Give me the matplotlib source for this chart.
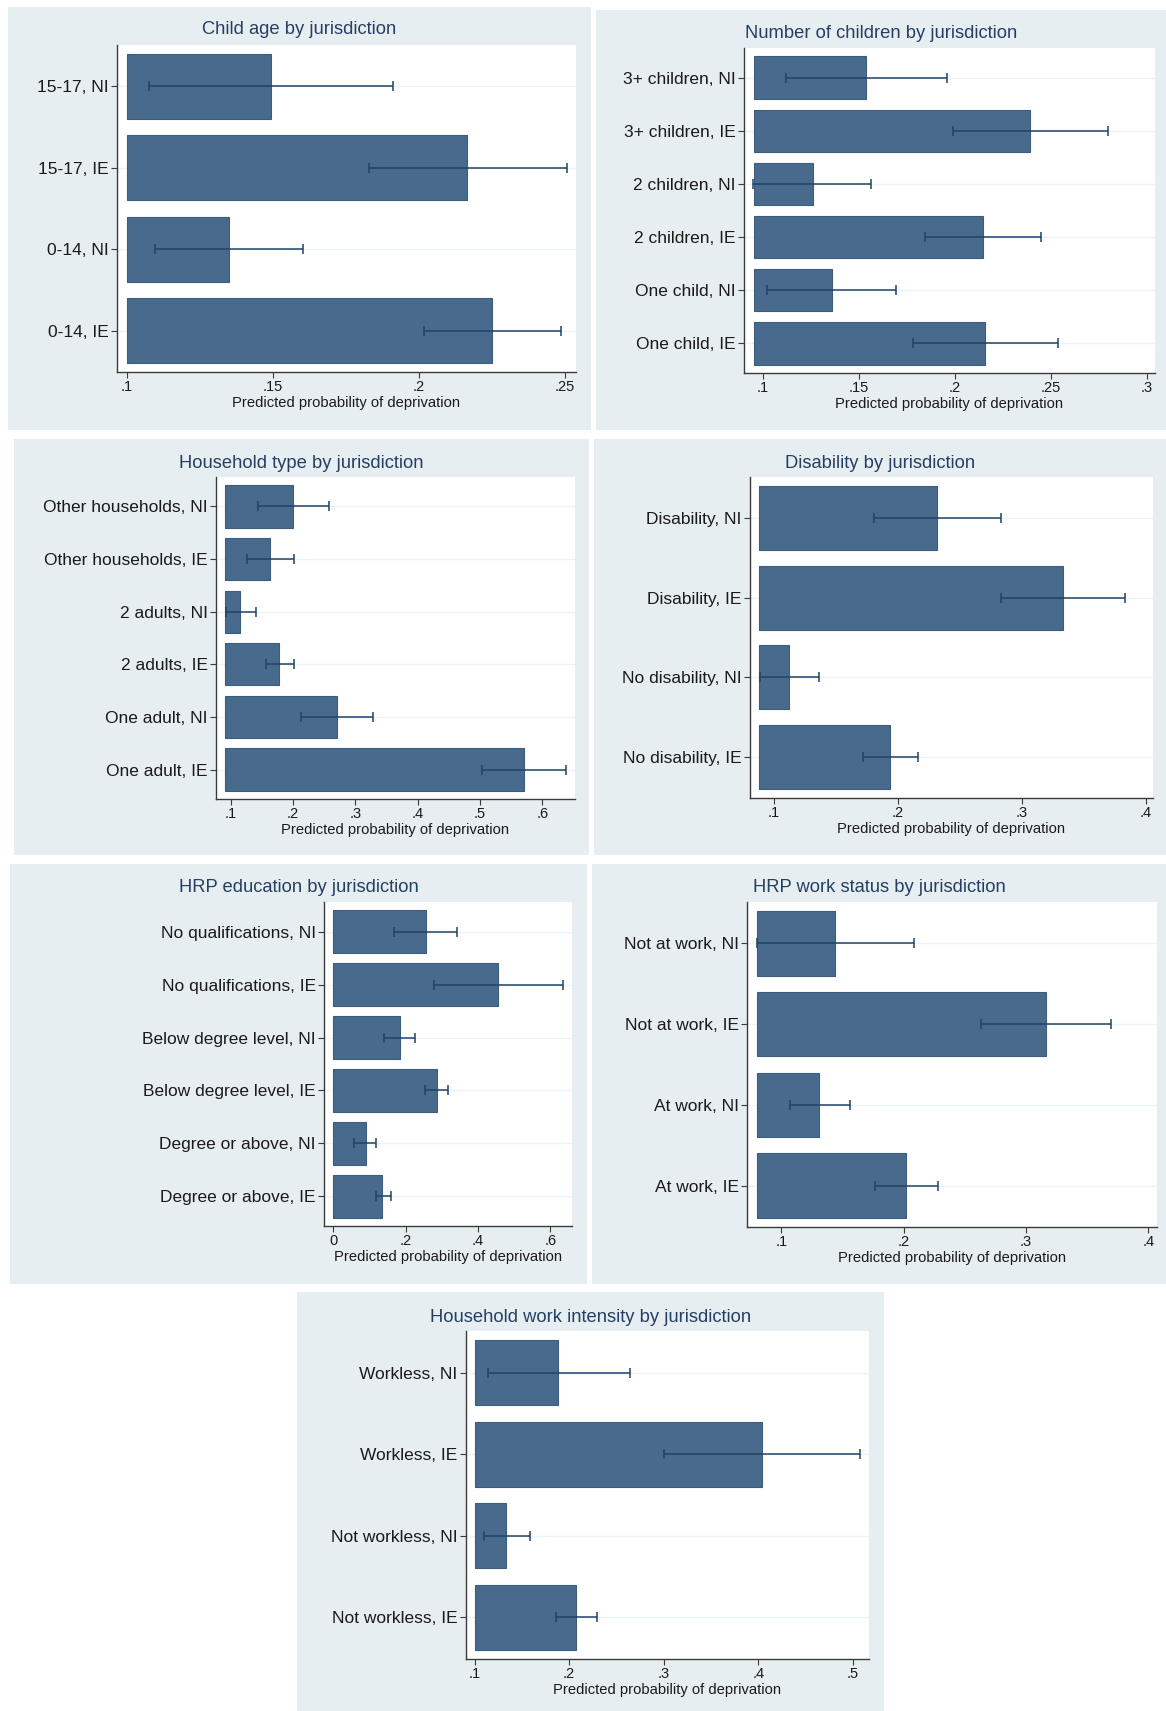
import matplotlib
matplotlib.use("Agg")
import matplotlib.pyplot as plt
from matplotlib.patches import Rectangle
from matplotlib.ticker import FuncFormatter
import numpy as np

# --- data (top category first) ---
age_labels = ["15-17, NI", "15-17, IE", "0-14, NI", "0-14, IE"]
age_prob = [0.1494, 0.2164, 0.1349, 0.2249]
age_lo = [0.1078, 0.1828, 0.1098, 0.2016]
age_hi = [0.1911, 0.2506, 0.1604, 0.2484]

kids_labels = ["3+ children, NI", "3+ children, IE", "2 children, NI",
               "2 children, IE", "One child, NI", "One child, IE"]
kids_prob = [0.1538, 0.2394, 0.1260, 0.2148, 0.1360, 0.2160]
kids_lo = [0.1120, 0.1990, 0.0952, 0.1848, 0.1023, 0.1782]
kids_hi = [0.1960, 0.2797, 0.1563, 0.2452, 0.1693, 0.2537]

hh_labels = ["Other households, NI", "Other households, IE", "2 adults, NI",
             "2 adults, IE", "One adult, NI", "One adult, IE"]
hh_prob = [0.2002, 0.1628, 0.1157, 0.1780, 0.2710, 0.5700]
hh_lo = [0.1430, 0.1260, 0.0928, 0.1560, 0.2130, 0.5030]
hh_hi = [0.2570, 0.2008, 0.1400, 0.2008, 0.3290, 0.6380]

dis_labels = ["Disability, NI", "Disability, IE", "No disability, NI", "No disability, IE"]
dis_prob = [0.2314, 0.3331, 0.1120, 0.1939]
dis_lo = [0.1804, 0.2836, 0.0885, 0.1717]
dis_hi = [0.2833, 0.3835, 0.1363, 0.2164]

edu_labels = ["No qualifications, NI", "No qualifications, IE", "Below degree level, NI",
              "Below degree level, IE", "Degree or above, NI", "Degree or above, IE"]
edu_prob = [0.256, 0.455, 0.183, 0.286, 0.0896, 0.135]
edu_lo = [0.168, 0.277, 0.141, 0.253, 0.058, 0.117]
edu_hi = [0.343, 0.635, 0.225, 0.318, 0.118, 0.158]

work_labels = ["Not at work, NI", "Not at work, IE", "At work, NI", "At work, IE"]
work_prob = [0.144, 0.316, 0.131, 0.202]
work_lo = [0.0797, 0.263, 0.1067, 0.1767]
work_hi = [0.208, 0.369, 0.156, 0.2276]

wi_labels = ["Workless, NI", "Workless, IE", "Not workless, NI", "Not workless, IE"]
wi_prob = [0.1887, 0.4034, 0.1334, 0.2070]
wi_lo = [0.1143, 0.3004, 0.1095, 0.1859]
wi_hi = [0.2646, 0.5072, 0.1584, 0.2296]

W, H = 1166, 1711
BG = "#e7eef2"
BAR = "#486a8c"
BAR_EDGE = "#3b5c7d"
ERR = "#1f4266"
TITLE_C = "#253f63"

plt.rcParams["font.family"] = ["Liberation Sans", "DejaVu Sans"]

# panel layout in pixels: background box, plot box, title y, axis min/max, ticks, bar base
panels = [
    dict(title="Child age by jurisdiction", labels=age_labels, prob=age_prob, lo=age_lo, hi=age_hi,
         bg=(8, 7, 591, 430), box=(117, 45, 576, 372), ty=30,
         xlim=(0.0967, 0.2537), ticks=[0.1, 0.15, 0.2, 0.25], base=0.1),
    dict(title="Number of children by jurisdiction", labels=kids_labels, prob=kids_prob, lo=kids_lo, hi=kids_hi,
         bg=(596, 10, 1166, 430), box=(744, 48, 1155, 373), ty=33,
         xlim=(0.0903, 0.3043), ticks=[0.1, 0.15, 0.2, 0.25, 0.3], base=0.0955),
    dict(title="Household type by jurisdiction", labels=hh_labels, prob=hh_prob, lo=hh_lo, hi=hh_hi,
         bg=(14, 439, 589, 855), box=(216, 477, 575, 799), ty=463,
         xlim=(0.0764, 0.6525), ticks=[0.1, 0.2, 0.3, 0.4, 0.5, 0.6], base=0.0915),
    dict(title="Disability by jurisdiction", labels=dis_labels, prob=dis_prob, lo=dis_lo, hi=dis_hi,
         bg=(594, 439, 1166, 855), box=(750, 477, 1153, 798), ty=463,
         xlim=(0.0805, 0.406), ticks=[0.1, 0.2, 0.3, 0.4], base=0.088),
    dict(title="HRP education by jurisdiction", labels=edu_labels, prob=edu_prob, lo=edu_lo, hi=edu_hi,
         bg=(10, 864, 587, 1284), box=(324, 902, 572, 1226), ty=888,
         xlim=(-0.026, 0.660), ticks=[0, 0.2, 0.4, 0.6], base=0.0),
    dict(title="HRP work status by jurisdiction", labels=work_labels, prob=work_prob, lo=work_lo, hi=work_hi,
         bg=(592, 864, 1166, 1284), box=(747, 902, 1157, 1227), ty=888,
         xlim=(0.0718, 0.407), ticks=[0.1, 0.2, 0.3, 0.4], base=0.0797),
    dict(title="Household work intensity by jurisdiction", labels=wi_labels, prob=wi_prob, lo=wi_lo, hi=wi_hi,
         bg=(297, 1292, 884, 1711), box=(466, 1331, 869, 1659), ty=1317,
         xlim=(0.091, 0.517), ticks=[0.1, 0.2, 0.3, 0.4, 0.5], base=0.1),
]


def stata_fmt(v, pos):
    s = f"{v:g}"
    if s.startswith("0."):
        s = s[1:]
    elif s.startswith("-0."):
        s = "-" + s[2:]
    return s


fig = plt.figure(figsize=(W / 100, H / 100), dpi=100)
fig.patch.set_facecolor("white")

for p in panels:
    x0, y0, x1, y1 = p["bg"]
    fig.add_artist(Rectangle((x0 / W, 1 - y1 / H), (x1 - x0) / W, (y1 - y0) / H,
                             transform=fig.transFigure, facecolor=BG, edgecolor="none", zorder=0))
    fig.text((x0 + x1) / 2 / W, 1 - p["ty"] / H, p["title"], ha="center", va="center",
             fontsize=13.2, color=TITLE_C)

    bx0, by0, bx1, by1 = p["box"]
    ax = fig.add_axes([bx0 / W, 1 - by1 / H, (bx1 - bx0) / W, (by1 - by0) / H])
    ax.set_facecolor("white")

    n = len(p["labels"])
    ypos = np.arange(n)[::-1]
    prob = np.array(p["prob"])
    lo = np.array(p["lo"])
    hi = np.array(p["hi"])

    ax.barh(ypos, prob - p["base"], left=p["base"], height=0.8,
            color=BAR, edgecolor=BAR_EDGE, linewidth=0.8, zorder=2)
    ax.errorbar(prob, ypos, xerr=[prob - lo, hi - prob], fmt="none",
                ecolor=ERR, elinewidth=1.1, capsize=3.5, capthick=1.1, zorder=3)

    for y in ypos:
        ax.axhline(y, color="#edf2f5", linewidth=1.0, zorder=1)

    pad = 0.51 if n == 4 else 0.56
    ax.set_ylim(-pad, n - 1 + pad)
    ax.set_xlim(*p["xlim"])
    ax.set_yticks(ypos)
    ax.set_yticklabels(p["labels"])
    ax.set_xticks(p["ticks"])
    ax.xaxis.set_major_formatter(FuncFormatter(stata_fmt))

    for side in ("top", "right"):
        ax.spines[side].set_visible(False)
    for side in ("left", "bottom"):
        ax.spines[side].set_color("#3a3a3a")
        ax.spines[side].set_linewidth(1.0)

    ax.tick_params(axis="y", length=4, width=0.8, color="#3a3a3a", pad=2,
                   labelsize=12.5, labelcolor="#1a1a1a")
    ax.tick_params(axis="x", length=4, width=0.8, color="#3a3a3a", pad=2,
                   labelsize=10.5, labelcolor="#1a1a1a")
    ax.set_xlabel("Predicted probability of deprivation", fontsize=10.6,
                  color="#1a1a1a", labelpad=1.5)

fig.savefig("out.png", dpi=100, facecolor="white")
